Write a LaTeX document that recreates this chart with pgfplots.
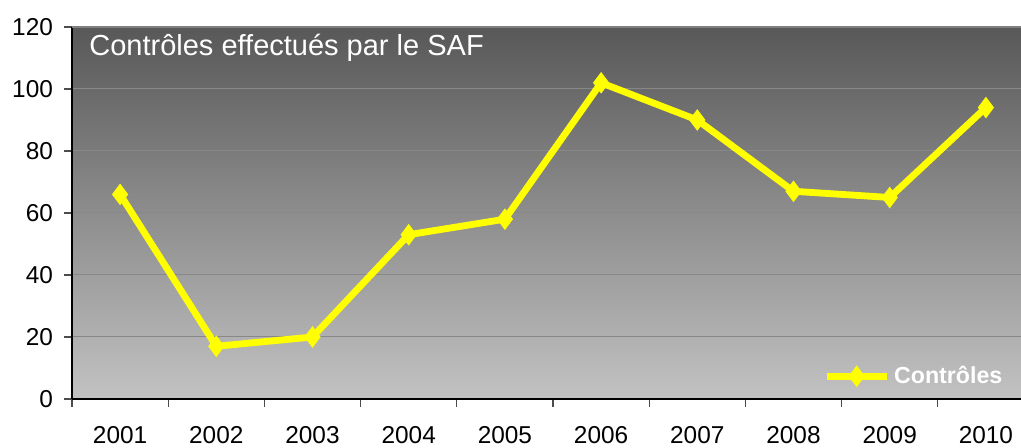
\documentclass[border=0pt]{standalone}
\usepackage{fontspec}
\setmainfont{Liberation Sans}
\usepackage{pgfplots}
\pgfplotsset{compat=1.18}
\definecolor{bgtop}{RGB}{88,88,88}
\definecolor{bgbot}{RGB}{194,194,194}
\definecolor{gridc}{RGB}{136,136,136}
\definecolor{topln}{RGB}{128,128,128}
\definecolor{yel}{RGB}{255,255,0}
\begin{document}
\begin{tikzpicture}
\begin{axis}[
  at={(36pt,24.5pt)}, anchor=south west,
  width=474.5pt, height=186pt, scale only axis,
  xmin=-0.5, xmax=9.365, ymin=0, ymax=120,
  axis x line*=bottom, axis y line*=left,
  axis line style={black, line width=0.8pt},
  axis background/.style={top color=bgtop, bottom color=bgbot},
  xtick={0,1,2,3,4,5,6,7,8,9},
  xticklabels={2001,2002,2003,2004,2005,2006,2007,2008,2009,2010},
  minor xtick={-0.5,0.5,1.5,2.5,3.5,4.5,5.5,6.5,7.5,8.5},
  ytick={0,20,40,60,80,100,120},
  tick align=outside,
  major tick length=4pt, minor tick length=4pt,
  major x tick style={draw=none},
  minor x tick style={black!70, line width=0.6pt},
  major y tick style={black!70, line width=0.6pt},
  ymajorgrids, major grid style={gridc, line width=0.5pt},
  /pgf/number format/assume math mode=true,
  ticklabel style={font=\fontsize{12.2}{14}\selectfont, text=black},
  xticklabel style={yshift=-6pt},
  yticklabel style={xshift=-2pt},
  legend style={at={(axis description cs:0.985,0.022)}, anchor=south east,
    draw=none, fill=none, inner sep=0pt, text=white,
    font=\fontsize{11.6}{13}\selectfont\bfseries,
    /tikz/every even column/.append style={column sep=0pt}},
  legend image code/.code={\draw[mark repeat=2,mark phase=2,#1] plot coordinates {(0pt,0pt) (15pt,0pt) (30pt,0pt)};},
]
\addplot[yel, line width=3.4pt, mark=diamond*, mark size=5pt, mark options={fill=yel, draw=yel, line width=0.5pt}]
  coordinates {(0,66) (1,17) (2,20) (3,53) (4,58) (5,102) (6,90) (7,67) (8,65) (9,94)};
\addlegendentry{Contrôles}
\draw[topln, line width=0.8pt] (rel axis cs:0,1) -- (rel axis cs:1,1);
\node[anchor=base west, inner sep=0pt, text=white, font=\fontsize{14.5}{17}\selectfont]
  at ([xshift=8.5pt,yshift=-14.5pt]rel axis cs:0,1) {Contrôles effectués par le SAF};
\end{axis}
\pgfresetboundingbox
\path (0,0) rectangle (510.5pt,224pt);
\end{tikzpicture}
\end{document}
